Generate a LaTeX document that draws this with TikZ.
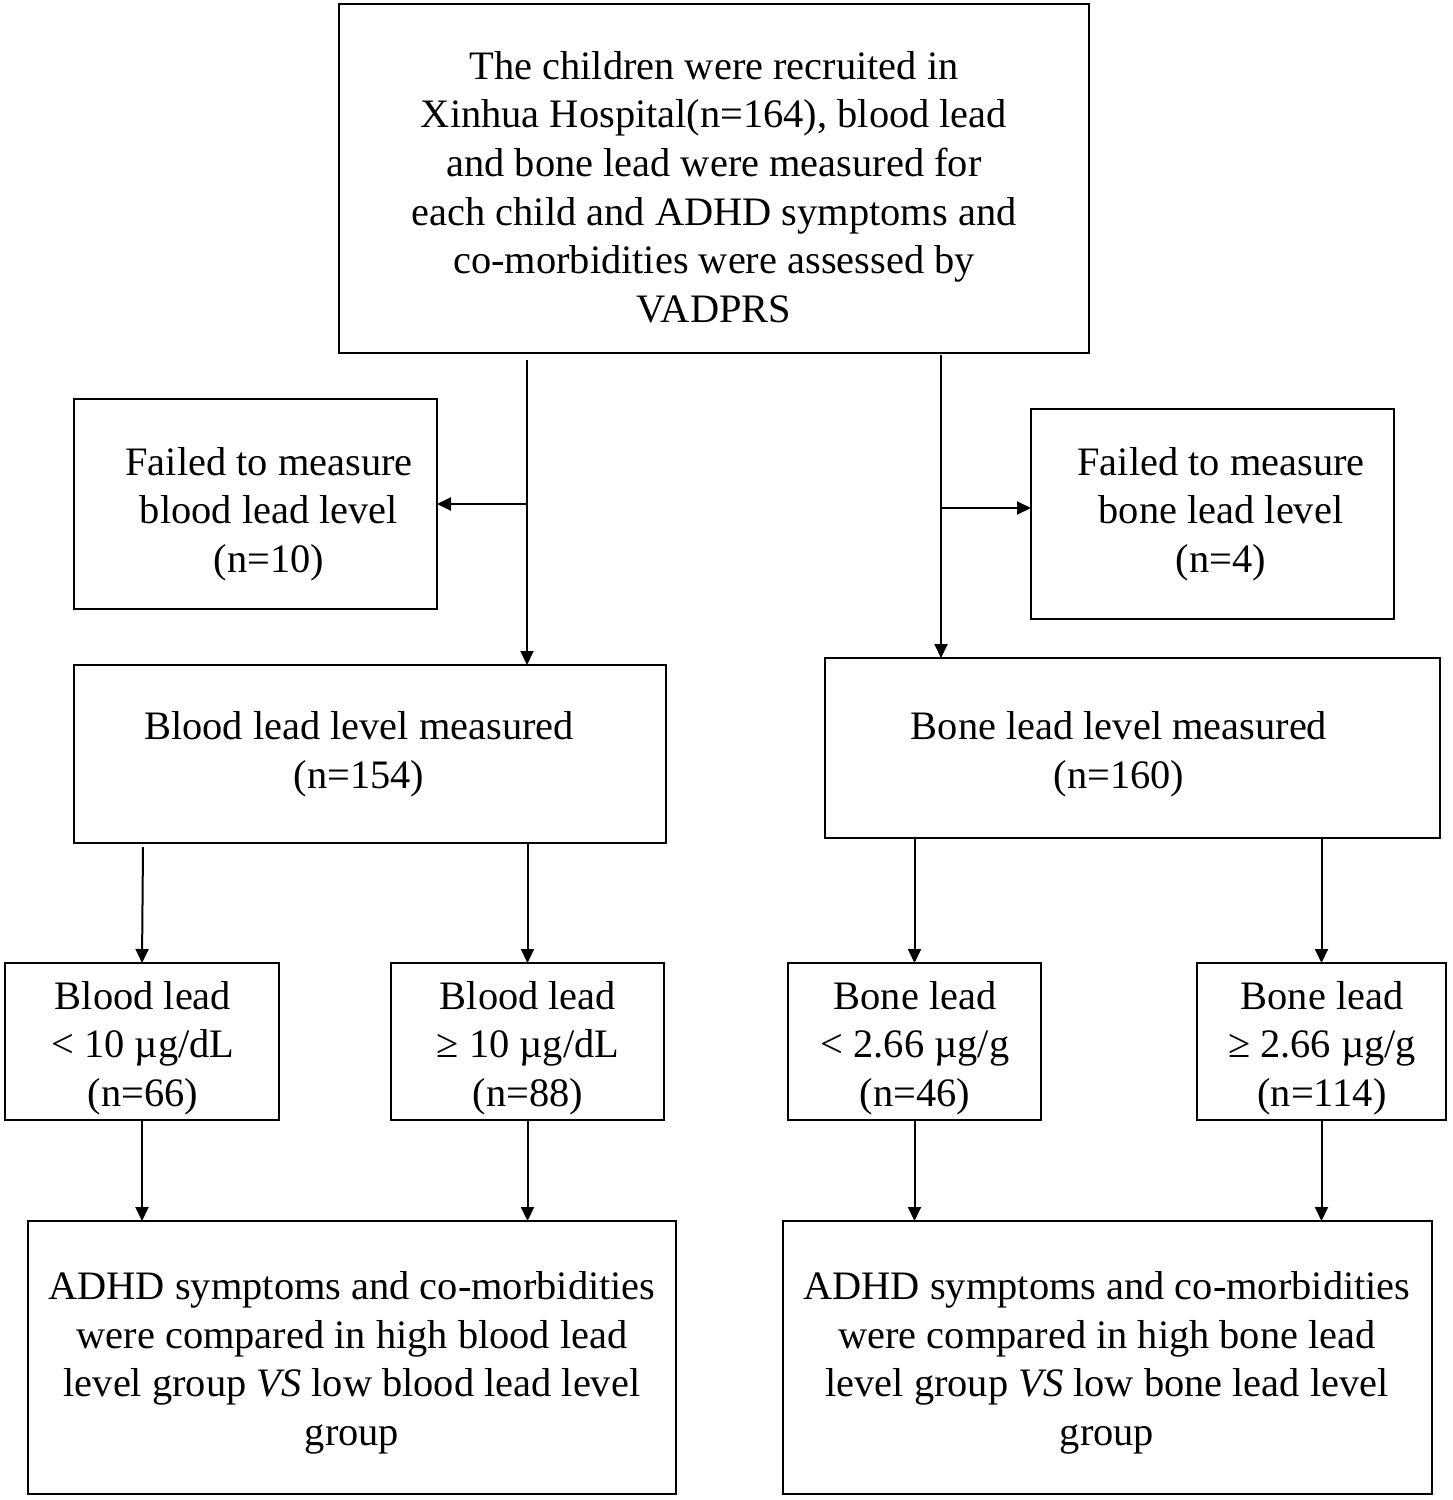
\documentclass[tikz,border=0pt]{standalone}
\usepackage{fontspec}
\setmainfont{Liberation Serif}
\usetikzlibrary{arrows.meta}
\begin{document}
\begin{tikzpicture}[x=0.5pt,y=-0.5pt,
  box/.style={draw,line width=1pt,rectangle,inner sep=0pt,outer sep=0pt},
  txt/.style={align=center,inner sep=0pt,font=\fontsize{20.2}{24.3}\selectfont},
  arr/.style={line width=1pt,-{Triangle[length=7pt,width=6.5pt]}}]
\useasboundingbox (0,0) rectangle (1452,1500);
% boxes
\node[box,minimum width=375pt,minimum height=174.5pt] (top) at (714,178.5) {};
\node[box,minimum width=181.5pt,minimum height=105pt] (fb1) at (255.5,504) {};
\node[box,minimum width=181.5pt,minimum height=105pt] (fb2) at (1212.5,514) {};
\node[box,minimum width=296pt,minimum height=89pt] (bm) at (370,754) {};
\node[box,minimum width=307.5pt,minimum height=90pt] (om) at (1132.5,748) {};
\node[box,minimum width=137pt,minimum height=78.5pt] (s1) at (142,1041.5) {};
\node[box,minimum width=136.5pt,minimum height=78.5pt] (s2) at (527.5,1041.5) {};
\node[box,minimum width=126.5pt,minimum height=78.5pt] (s3) at (914.5,1041.5) {};
\node[box,minimum width=124.5pt,minimum height=78.5pt] (s4) at (1321.5,1041.5) {};
\node[box,minimum width=324pt,minimum height=136.5pt] (r1) at (352,1357.5) {};
\node[box,minimum width=324.5pt,minimum height=136.5pt] (r2) at (1107.5,1357.5) {};
% texts
\node[txt] (ttop) at (714,187) {The children were recruited in\\Xinhua Hospital(n=164), blood lead\\and bone lead were measured for\\each child and ADHD symptoms and\\co-morbidities were assessed by\\VADPRS};
\node[txt] (tfb1) at (269,514) {Failed to measure\\blood lead level\\(n=10)};
\node[txt] (tfb2) at (1221,514) {Failed to measure\\bone lead level\\(n=4)};
\node[txt] (tbm) at (359,754) {Blood lead level measured\\(n=154)};
\node[txt] (tom) at (1119,754) {Bone lead level measured\\(n=160)};
\node[txt] (ts1) at (143,1048) {Blood lead\\< 10 µg/dL\\(n=66)};
\node[txt] (ts2) at (528,1048) {Blood lead\\≥ 10 µg/dL\\(n=88)};
\node[txt] (ts3) at (915,1048) {Bone lead\\< 2.66 µg/g\\(n=46)};
\node[txt] (ts4) at (1322,1048) {Bone lead\\≥ 2.66 µg/g\\(n=114)};
\node[txt] (tr1) at (352,1363) {ADHD symptoms and co-morbidities\\were compared in high blood lead\\level group \textit{VS} low blood lead level\\group};
\node[txt] (tr2) at (1107,1363) {ADHD symptoms and co-morbidities\\were compared in high bone lead\\level group \textit{VS} low bone lead level\\group};
% connectors
\coordinate (a1) at (527,360);
\coordinate (b1) at (527,504);
\coordinate (a2) at (941,355);
\coordinate (b2) at (941,508);
\coordinate (c1) at (143,847);
\draw[arr] (a1) -- (a1 |- bm.north);
\draw[arr] (b1) -- (b1 -| fb1.east);
\draw[arr] (a2) -- (a2 |- om.north);
\draw[arr] (b2) -- (b2 -| fb2.west);
\draw[arr] (c1) -- (s1.north);
\draw[arr] (s2.north |- bm.south) -- (s2.north);
\draw[arr] (s3.north |- om.south) -- (s3.north);
\draw[arr] (s4.north |- om.south) -- (s4.north);
\draw[arr] (s1.south) -- (s1.south |- r1.north);
\draw[arr] (s2.south) -- (s2.south |- r1.north);
\draw[arr] (s3.south) -- (s3.south |- r2.north);
\draw[arr] (s4.south) -- (s4.south |- r2.north);
\end{tikzpicture}
\end{document}
